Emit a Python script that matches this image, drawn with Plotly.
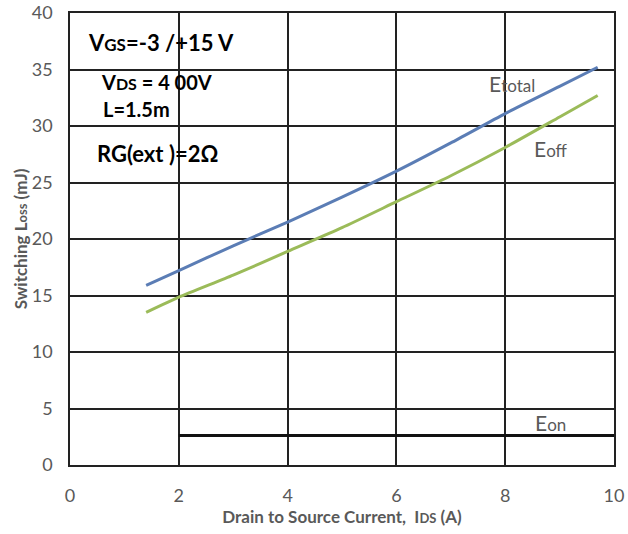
import plotly.graph_objects as go

# Drain current (A) and switching energies (mJ)
ids_a = [1.4, 2, 3, 4, 5, 6, 7, 8, 9, 9.7]
e_total = [15.9, 17.2, 19.4, 21.5, 23.7, 26.0, 28.5, 31.1, 33.5, 35.2]
e_off = [13.5, 14.85, 16.8, 18.9, 21.0, 23.3, 25.6, 28.1, 30.8, 32.7]
eon_x = [2, 10]
eon_y = [2.6, 2.6]

x_ticks = [0, 2, 4, 6, 8, 10]
y_ticks = [0, 5, 10, 15, 20, 25, 30, 35, 40]

FONT = "Lato"
GRAY = "#595959"

fig = go.Figure()
fig.add_trace(go.Scatter(x=ids_a, y=e_total, mode="lines",
                         line=dict(color="#5b7db5", width=3, shape="spline", smoothing=0.6)))
fig.add_trace(go.Scatter(x=ids_a, y=e_off, mode="lines",
                         line=dict(color="#9bbb59", width=3, shape="spline", smoothing=0.6)))
fig.add_trace(go.Scatter(x=eon_x, y=eon_y, mode="lines", line=dict(color="#111111", width=3)))

def small(t, size):
    return f"<span style='font-size:{size}px'>{t}</span>"

# Test conditions: (x, y, text, font size)
cond_texts = [
    (0.31, 37.4, "<b>V" + small("GS", 17) + "=-3 /+15 V</b>", 22),
    (0.55, 33.85, "<b>V" + small("DS", 16) + " = 4 00V</b>", 20),
    (0.59, 31.5, "<b>L=1.5m</b>", 20),
    (0.48, 27.6, "<b>RG(ext )=2Ω</b>", 22),
]
for x, y, t, sz in cond_texts:
    fig.add_annotation(x=x, y=y, text=t, showarrow=False, xanchor="left", yanchor="middle",
                       borderpad=0, font=dict(family=FONT, size=sz, color="#000000"))

curve_labels = [
    (7.67, 33.8, "E" + small("total", 17)),
    (8.49, 28.0, "E" + small("off", 17)),
    (8.51, 3.8, "E" + small("on", 17)),
]
for x, y, t in curve_labels:
    fig.add_annotation(x=x, y=y, text=t, showarrow=False, xanchor="left", yanchor="middle",
                       font=dict(family=FONT, size=21, color=GRAY))

axis_common = dict(showgrid=True, gridcolor="#222222", gridwidth=1.5, showline=True,
                   linecolor="#222222", linewidth=1.5, mirror=True, zeroline=False,
                   ticks="", automargin=False, tickfont=dict(family=FONT, size=18, color=GRAY))

fig.update_xaxes(range=[0, 10], tickvals=x_ticks, ticktext=[str(v) for v in x_ticks],
                 ticklabelstandoff=14,
                 title=dict(text="<b>Drain to Source Current,  I" + small("DS", 13) + " (A)</b>",
                            font=dict(family=FONT, size=17, color=GRAY), standoff=4),
                 **axis_common)
fig.update_yaxes(range=[0, 40], tickvals=y_ticks, ticktext=[str(v) for v in y_ticks],
                 ticklabelstandoff=12,
                 title=dict(text="<b>Switching L" + small("oss", 13) + " (mJ)</b>",
                            font=dict(family=FONT, size=17, color=GRAY), standoff=0),
                 **axis_common)

fig.update_layout(width=628, height=534, showlegend=False,
                  margin=dict(l=70, r=14, t=13, b=69, autoexpand=False),
                  paper_bgcolor="white", plot_bgcolor="white")

fig.write_html("out.html")
